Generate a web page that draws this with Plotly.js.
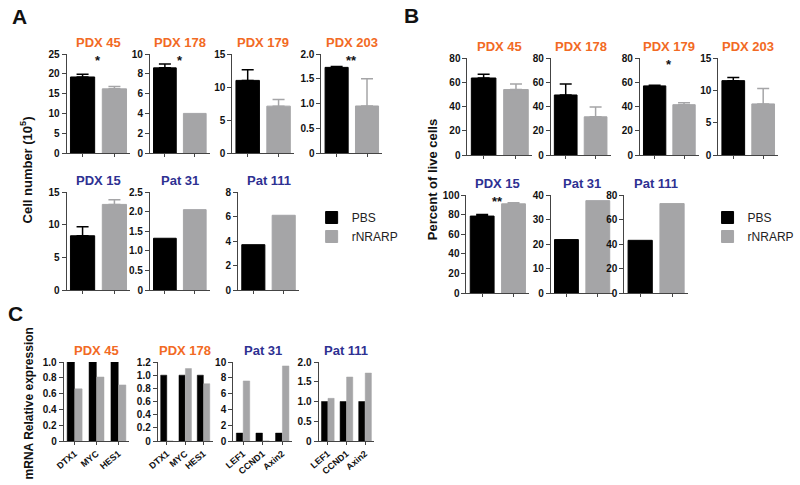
<!DOCTYPE html>
<html>
<head>
<meta charset="utf-8">
<script src="https://cdn.plot.ly/plotly-3.0.1.min.js"></script>
<style>
  html, body { margin: 0; padding: 0; background: #fff; }
  #chart { width: 800px; height: 485px; }
</style>
</head>
<body>
<div id="chart"></div>
<script>
// series
var groups = ['PBS', 'rNRARP'];

// panel A: cell number (10^5)
var aNames = ['PDX 45', 'PDX 178', 'PDX 179', 'PDX 203', 'PDX 15', 'Pat 31', 'Pat 111'];
var aPBS = [19.2, 8.6, 11.0, 1.73, 8.3, 1.32, 3.7];
var aPBSErr = [0.7, 0.4, 1.6, 0.02, 1.4, 0, 0];
var aNR = [16.2, 4.0, 7.1, 0.95, 13.1, 2.05, 6.1];
var aNRErr = [0.6, 0, 1.0, 0.55, 0.7, 0, 0];
var aMax = [25, 10, 15, 2, 15, 2.5, 8];
var aStep = [5, 2, 5, 0.5, 5, 0.5, 2];
var aStars = ['*', '*', '', '**', '', '', ''];

// panel B: percent of live cells
var bNames = ['PDX 45', 'PDX 178', 'PDX 179', 'PDX 203', 'PDX 15', 'Pat 31', 'Pat 111'];
var bPBS = [63.5, 49.5, 57, 11.5, 78.5, 21.8, 43];
var bPBSErr = [3, 9, 0.5, 0.5, 1.5, 0, 0];
var bNR = [54, 31.5, 41.5, 7.9, 91, 37.7, 73];
var bNRErr = [4.5, 8, 1.5, 2.4, 1, 0, 0];
var bMax = [80, 80, 80, 15, 100, 40, 80];
var bStep = [20, 20, 20, 5, 20, 10, 20];
var bStars = ['', '', '*', '', '**', '', ''];

// panel C: mRNA relative expression
var cNames = ['PDX 45', 'PDX 178', 'Pat 31', 'Pat 111'];
var cGenes = [['DTX1', 'MYC', 'HES1'], ['DTX1', 'MYC', 'HES1'], ['LEF1', 'CCND1', 'Axin2'], ['LEF1', 'CCND1', 'Axin2']];
var cPBS = [[1, 1, 1], [1, 1, 1], [1, 1, 1], [1, 1, 1]];
var cNR = [[0.66, 0.81, 0.71], [0, 1.1, 0.87], [7.6, 0, 9.5], [1.08, 1.62, 1.72]];
var cMax = [1.0, 1.2, 10, 2.0];
var cStep = [0.2, 0.2, 2, 0.5];

var ORANGE = '#F26A24';
var BLUE = '#2E3192';
var BLACK = '#000000';
var GREY = '#A5A5A7';
var FONT = 'Liberation Sans, Arial, sans-serif';
var W = 800, H = 485;

// pixel boxes [left, right, top, bottom]
var aBoxes = [[68, 133, 54, 153], [153, 214, 54, 153], [237, 300, 54, 153], [328, 390, 54, 153],
              [68, 133, 192, 290], [153, 214, 192, 290], [243, 305, 192, 290]];
var bBoxes = [[477, 543, 58, 155], [562, 623, 58, 155], [653, 713, 58, 155], [733, 794, 58, 155],
              [476, 540, 195, 293], [562, 626, 195, 293], [637, 702, 195, 293]];
var cBoxes = [[65, 132, 362, 441], [161, 217, 362, 441], [238, 298, 362, 441], [325, 382, 362, 441]];

function titleColor(name) {
  return (name.indexOf('PDX') === 0 && name !== 'PDX 15') ? ORANGE : BLUE;
}

function ticks(max, step) {
  var vals = [], text = [];
  for (var i = 0; i * step <= max + 1e-9; i++) {
    var v = Math.round(i * step * 100) / 100;
    vals.push(v);
    text.push(v === 0 ? '0' : (step < 1 ? v.toFixed(1) : String(v)));
  }
  return {vals: vals, text: text};
}

var data = [];
var layout = {
  width: W, height: H,
  margin: {l: 0, r: 0, t: 0, b: 0},
  paper_bgcolor: '#fff', plot_bgcolor: '#fff',
  font: {family: FONT, color: '#111'},
  barmode: 'group',
  bargap: 0.3,
  bargroupgap: 0.05,
  showlegend: true,
  legend: {x: 318 / W, y: 1 - 203 / H, xanchor: 'left', yanchor: 'top',
           font: {family: FONT, size: 12, color: '#222'}, itemwidth: 30, tracegroupgap: 0},
  legend2: {x: 722 / W, y: 1 - 203 / H, xanchor: 'left', yanchor: 'top',
            font: {family: FONT, size: 12, color: '#222'}, itemwidth: 30, tracegroupgap: 0},
  annotations: []
};

var n = 0;
function addAxes(box, max, step, cats, angle) {
  n++;
  var xk = n === 1 ? 'xaxis' : 'xaxis' + n;
  var yk = n === 1 ? 'yaxis' : 'yaxis' + n;
  var t = ticks(max, step);
  layout[xk] = {
    domain: [box[0] / W, box[1] / W],
    anchor: 'y' + (n === 1 ? '' : n),
    range: [-0.5, cats.length - 0.5],
    type: 'category',
    showline: true, linecolor: '#444', linewidth: 1,
    ticks: 'outside', ticklen: 3, tickcolor: '#444',
    showgrid: false, zeroline: false,
    showticklabels: angle !== null,
    tickangle: angle === null ? 0 : angle,
    tickfont: {family: FONT, size: 9, color: '#111', weight: 'bold'},
    fixedrange: true
  };
  layout[yk] = {
    domain: [1 - box[3] / H, 1 - box[2] / H],
    anchor: 'x' + (n === 1 ? '' : n),
    range: [0, max],
    tickvals: t.vals, ticktext: t.text,
    showline: true, linecolor: '#444', linewidth: 1,
    ticks: 'outside', ticklen: 4, tickcolor: '#444',
    showgrid: false, zeroline: false,
    tickfont: {family: FONT, size: 10, color: '#111', weight: 'bold'},
    fixedrange: true
  };
  return n === 1 ? '' : String(n);
}

function addTitle(name, box, size) {
  layout.annotations.push({
    text: '<b>' + name + '</b>', xref: 'paper', yref: 'paper',
    x: (box[0] + box[1]) / 2 / W, y: 1 - (box[2] - 12) / H,
    xanchor: 'center', yanchor: 'middle', showarrow: false,
    font: {family: FONT, size: size, color: titleColor(name)}
  });
}

function barPanel(names, pbs, pbsErr, nr, nrErr, maxs, steps, stars, boxes, legendId) {
  for (var i = 0; i < names.length; i++) {
    var id = addAxes(boxes[i], maxs[i], steps[i], groups, null);
    data.push({
      type: 'bar', x: [groups[0]], y: [pbs[i]], name: groups[0],
      xaxis: 'x' + id, yaxis: 'y' + id, width: 0.76,
      marker: {color: BLACK, line: {color: BLACK, width: 1}},
      error_y: {type: 'data', symmetric: false, array: [pbsErr[i]], arrayminus: [0],
                color: BLACK, thickness: 1.5, width: 6, visible: pbsErr[i] > 0},
      showlegend: i === 0, legend: legendId, hoverinfo: 'skip'
    });
    data.push({
      type: 'bar', x: [groups[1]], y: [nr[i]], name: groups[1],
      xaxis: 'x' + id, yaxis: 'y' + id, width: 0.76,
      marker: {color: GREY, line: {color: GREY, width: 1}},
      error_y: {type: 'data', symmetric: false, array: [nrErr[i]], arrayminus: [0],
                color: GREY, thickness: 1.5, width: 6, visible: nrErr[i] > 0},
      showlegend: i === 0, legend: legendId, hoverinfo: 'skip'
    });
    addTitle(names[i], boxes[i], 13);
    if (stars[i]) {
      layout.annotations.push({
        text: '<b>' + stars[i] + '</b>', xref: 'x' + id + ' domain', yref: 'y' + id + ' domain',
        x: 0.5, y: 0.93, xanchor: 'center', yanchor: 'middle', showarrow: false,
        font: {family: FONT, size: 13, color: '#111'}
      });
    }
  }
}

barPanel(aNames, aPBS, aPBSErr, aNR, aNRErr, aMax, aStep, aStars, aBoxes, 'legend');
barPanel(bNames, bPBS, bPBSErr, bNR, bNRErr, bMax, bStep, bStars, bBoxes, 'legend2');

for (var j = 0; j < cNames.length; j++) {
  var cid = addAxes(cBoxes[j], cMax[j], cStep[j], cGenes[j], -40);
  data.push({
    type: 'bar', x: cGenes[j], y: cPBS[j], name: groups[0],
    xaxis: 'x' + cid, yaxis: 'y' + cid, offsetgroup: 'a',
    marker: {color: BLACK, line: {color: BLACK, width: 0.5}},
    showlegend: false, hoverinfo: 'skip'
  });
  data.push({
    type: 'bar', x: cGenes[j], y: cNR[j], name: groups[1],
    xaxis: 'x' + cid, yaxis: 'y' + cid, offsetgroup: 'b',
    marker: {color: GREY, line: {color: GREY, width: 0.5}},
    showlegend: false, hoverinfo: 'skip'
  });
  addTitle(cNames[j], cBoxes[j], 13);
}

// panel letters and y titles
function note(text, x, y, size, angle) {
  layout.annotations.push({
    text: text, xref: 'paper', yref: 'paper', x: x / W, y: 1 - y / H,
    xanchor: 'center', yanchor: 'middle', showarrow: false, textangle: angle || 0,
    font: {family: FONT, size: size, color: '#111'}
  });
}
note('<b>A</b>', 20, 17, 21);
note('<b>B</b>', 420, 16, 21);
note('<b>C</b>', 16, 313, 21);
note('<b>Cell number (10<sup>5</sup>)</b>', 27, 170, 13, -90);
note('<b>Percent of live cells</b>', 441, 180, 13, -90);
note('<b>mRNA Relative expression</b>', 30, 403, 12, -90);

Plotly.newPlot('chart', data, layout, {displayModeBar: false, staticPlot: true});
</script>
</body>
</html>
